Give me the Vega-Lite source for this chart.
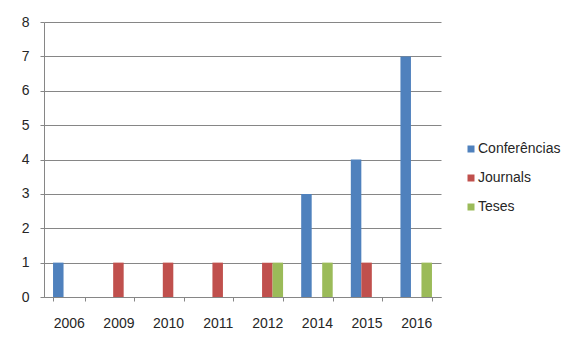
{
  "$schema": "https://vega.github.io/schema/vega-lite/v6.json",
  "autosize": {"type": "none"},
  "padding": {"left": 44, "top": 22, "right": 143, "bottom": 56},
  "width": 397,
  "height": 275,
  "background": "white",
  "data": {
    "values": [
      {"ano": "2006", "tipo": "Conferências", "n": 1},
      {"ano": "2006", "tipo": "Journals", "n": 0},
      {"ano": "2006", "tipo": "Teses", "n": 0},
      {"ano": "2009", "tipo": "Conferências", "n": 0},
      {"ano": "2009", "tipo": "Journals", "n": 1},
      {"ano": "2009", "tipo": "Teses", "n": 0},
      {"ano": "2010", "tipo": "Conferências", "n": 0},
      {"ano": "2010", "tipo": "Journals", "n": 1},
      {"ano": "2010", "tipo": "Teses", "n": 0},
      {"ano": "2011", "tipo": "Conferências", "n": 0},
      {"ano": "2011", "tipo": "Journals", "n": 1},
      {"ano": "2011", "tipo": "Teses", "n": 0},
      {"ano": "2012", "tipo": "Conferências", "n": 0},
      {"ano": "2012", "tipo": "Journals", "n": 1},
      {"ano": "2012", "tipo": "Teses", "n": 1},
      {"ano": "2014", "tipo": "Conferências", "n": 3},
      {"ano": "2014", "tipo": "Journals", "n": 0},
      {"ano": "2014", "tipo": "Teses", "n": 1},
      {"ano": "2015", "tipo": "Conferências", "n": 4},
      {"ano": "2015", "tipo": "Journals", "n": 1},
      {"ano": "2015", "tipo": "Teses", "n": 0},
      {"ano": "2016", "tipo": "Conferências", "n": 7},
      {"ano": "2016", "tipo": "Journals", "n": 0},
      {"ano": "2016", "tipo": "Teses", "n": 1}
    ]
  },
  "mark": {"type": "bar"},
  "encoding": {
    "x": {
      "field": "ano",
      "type": "nominal",
      "title": null,
      "scale": {"paddingInner": 0.365, "paddingOuter": 0.182},
      "axis": {
        "labelAngle": 0,
        "tickBand": "extent",
        "tickSize": 4,
        "labelPadding": 15,
        "labelFont": "Liberation Sans",
        "labelFontSize": 14,
        "labelColor": "#262626",
        "domainColor": "#868686",
        "tickColor": "#868686",
        "grid": false
      }
    },
    "xOffset": {
      "field": "tipo",
      "type": "nominal",
      "scale": {"paddingInner": 0, "paddingOuter": 0}
    },
    "y": {
      "field": "n",
      "type": "quantitative",
      "title": null,
      "scale": {"domain": [0, 8], "nice": false},
      "axis": {
        "values": [0, 1, 2, 3, 4, 5, 6, 7, 8],
        "tickSize": 4,
        "labelPadding": 11,
        "labelFont": "Liberation Sans",
        "labelFontSize": 14,
        "labelColor": "#262626",
        "domainColor": "#868686",
        "tickColor": "#868686",
        "gridColor": "#868686",
        "gridWidth": 1
      }
    },
    "color": {
      "field": "tipo",
      "type": "nominal",
      "title": null,
      "scale": {
        "domain": ["Conferências", "Journals", "Teses"],
        "range": ["#4F81BD", "#C0504D", "#9BBB59"]
      },
      "legend": {
        "orient": "none",
        "legendX": 420,
        "legendY": 120,
        "padding": 0,
        "symbolType": "square",
        "symbolSize": 49,
        "symbolStrokeWidth": 0,
        "labelFont": "Liberation Sans",
        "labelFontSize": 14,
        "labelColor": "#262626",
        "labelOffset": 0,
        "rowPadding": 15
      }
    }
  },
  "config": {
    "view": {"stroke": null}
  }
}
